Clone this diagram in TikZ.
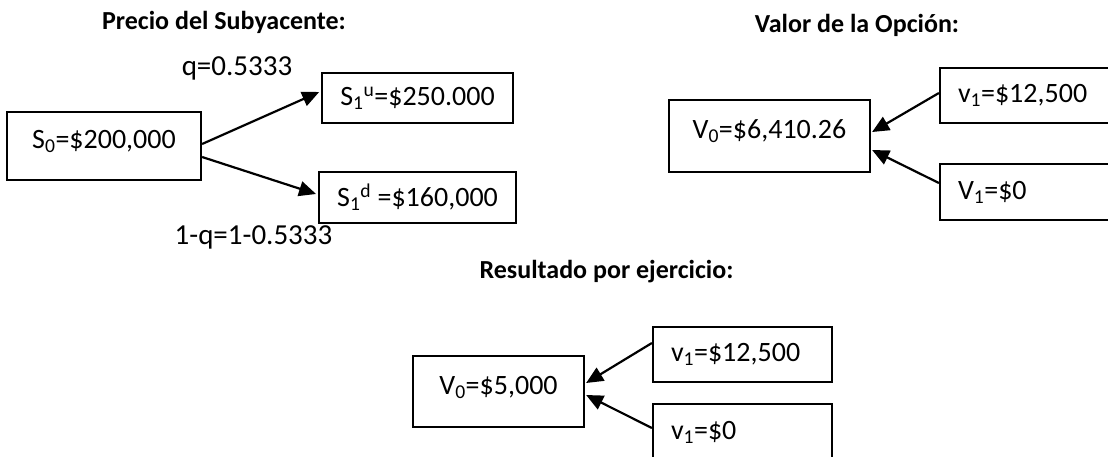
\documentclass[tikz,border=0pt]{standalone}
\usepackage{fontspec}
\setmainfont{Carlito}
\usetikzlibrary{arrows.meta}

\begin{document}
\begin{tikzpicture}[x=1pt,y=-1pt,
	caja/.style={draw, line width=2.2pt, inner xsep=18pt, inner ysep=0pt, font=\fontsize{28}{32}\selectfont},
	grande/.style={caja, text height=20pt, text depth=15pt},
	izq/.style={caja, align=left, text width=#1},
	etiqueta/.style={font=\fontsize{29}{32}\selectfont},
	titulo/.style={font=\fontsize{26}{32}\selectfont\bfseries},
	flecha/.style={line width=2.2pt, -{Triangle[length=17pt,width=15pt]}}]
	% Marco de la imagen
	\clip (0,0) rectangle (1108,457);
	\fill[white] (0,0) rectangle (1108,457);

	% Precio del subyacente
	\node[titulo] (tprecio) at (224,22) {Precio del Subyacente:};
	\node[grande, minimum width=194pt, minimum height=68pt] (s0) at (104,146) {S\textsubscript{0}=\$200,000};
	\node[caja, minimum width=185pt, minimum height=50pt] (s1u) at (417.5,98) {S\textsubscript{1}\textsuperscript{u}=\$250.000};
	\node[caja, minimum width=185pt, minimum height=51pt] (s1d) at (417.5,197.5) {S\textsubscript{1}\textsuperscript{d} =\$160,000};
	\node[etiqueta] (q) at (237,68) {q=0.5333};
	\node[etiqueta] (qd) at (253.5,237) {1-q=1-0.5333};
	\draw[flecha] ([yshift=2pt]s0.east) -- ([xshift=-2pt,yshift=6pt]s1u.west);
	\draw[flecha] ([yshift=-11pt]s0.east) -- ([xshift=-2pt,yshift=3.5pt]s1d.west);

	% Valor de la opcion
	\node[titulo] (tvalor) at (857,25) {Valor de la Opción:};
	\node[grande, minimum width=201pt, minimum height=72pt] (v0) at (769.5,136) {V\textsubscript{0}=\$6,410.26};
	\node[izq=134pt, minimum height=55pt] (v1u) at (1025,95.5) {v\textsubscript{1}=\$12,500};
	\node[izq=134pt, minimum height=56pt] (v1d) at (1025,192) {V\textsubscript{1}=\$0};
	\draw[flecha] ([yshift=2.5pt]v1u.west) -- ([xshift=1pt,yshift=4pt]v0.east);
	\draw[flecha] ([yshift=9pt]v1d.west) -- ([xshift=1pt,yshift=-14pt]v0.east);

	% Resultado por ejercicio
	\node[titulo] (tresultado) at (606.5,272) {Resultado por ejercicio:};
	\node[grande, minimum width=171pt, minimum height=71pt] (w0) at (498.5,391.5) {V\textsubscript{0}=\$5,000};
	\node[izq=143pt, minimum height=55pt] (w1u) at (742.5,354.5) {v\textsubscript{1}=\$12,500};
	\node[izq=143pt, minimum height=56pt] (w1d) at (742.5,432) {v\textsubscript{1}=\$0};
	\draw[flecha] ([yshift=11.5pt]w1u.west) -- ([xshift=1pt,yshift=8.5pt]w0.east);
	\draw[flecha] ([yshift=4pt]w1d.west) -- ([xshift=1pt,yshift=-3.5pt]w0.east);
\end{tikzpicture}
\end{document}
